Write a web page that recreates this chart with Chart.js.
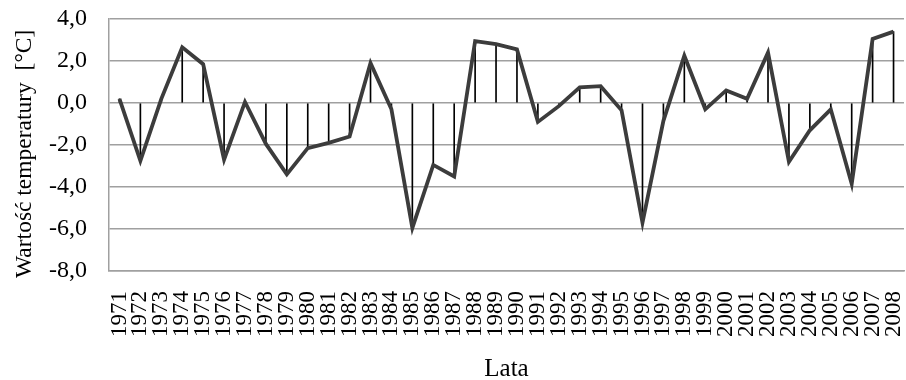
<!DOCTYPE html>
<html lang="pl">
<head>
  <meta charset="UTF-8" />
  <title>Wartość temperatury 1971-2008</title>
  <script src="https://cdn.jsdelivr.net/npm/chart.js@4.4.0/dist/chart.umd.min.js"></script>
  <style>
    html, body { margin: 0; padding: 0; background: #ffffff; }
    #wrap { width: 906px; height: 380px; }
  </style>
</head>
<body>
  <div id="wrap"><canvas id="tempChart" width="906" height="380"></canvas></div>

  <script>
    // Data
    const years = ['1971', '1972', '1973', '1974', '1975', '1976', '1977', '1978', '1979', '1980',
      '1981', '1982', '1983', '1984', '1985', '1986', '1987', '1988', '1989', '1990',
      '1991', '1992', '1993', '1994', '1995', '1996', '1997', '1998', '1999', '2000',
      '2001', '2002', '2003', '2004', '2005', '2006', '2007', '2008'];
    const temps = [0.2, -2.75, 0.2, 2.65, 1.85, -2.7, 0.05, -1.95, -3.4, -2.15,
      -1.9, -1.6, 1.9, -0.3, -5.95, -2.95, -3.5, 2.95, 2.8, 2.55,
      -0.9, -0.15, 0.75, 0.8, -0.35, -5.7, -0.85, 2.25, -0.3, 0.6,
      0.2, 2.4, -2.8, -1.3, -0.3, -3.85, 3.05, 3.4];
    const yTickValues = [-8, -6, -4, -2, 0, 2, 4];
    const yTickLabels = ['-8,0', '-6,0', '-4,0', '-2,0', '0,0', '2,0', '4,0'];

    const serif = 'Liberation Serif, Times New Roman, serif';

    new Chart(document.getElementById('tempChart'), {
      data: {
        labels: years,
        datasets: [
          {
            // the curve itself
            type: 'line',
            data: temps,
            borderColor: '#3c3c3c',
            borderWidth: 3.8,
            pointRadius: 0,
            tension: 0,
            order: 0
          },
          {
            // thin drop lines from zero to every point
            type: 'bar',
            data: temps,
            backgroundColor: '#000000',
            barThickness: 1,
            order: 1
          }
        ]
      },
      options: {
        responsive: false,
        animation: false,
        layout: { padding: { top: 19, right: 2, left: 0, bottom: 0 } },
        plugins: {
          legend: { display: false },
          tooltip: { enabled: false }
        },
        scales: {
          x: {
            offset: true,
            grid: { display: false, drawTicks: false },
            border: { display: true, color: '#a0a0a0', width: 1.5 },
            ticks: {
              color: '#000',
              font: { family: serif, size: 23 },
              minRotation: 90,
              maxRotation: 90,
              autoSkip: false,
              padding: 20
            },
            title: {
              display: true,
              text: 'Lata',
              color: '#000',
              font: { family: serif, size: 25, lineHeight: 0.85 },
              padding: { top: 0, bottom: 0 }
            },
            afterFit: scale => {
              scale.height = 109;
              scale.paddingLeft = 0;
              scale.paddingRight = 0;
            }
          },
          y: {
            min: -8,
            max: 4,
            grid: { color: '#a0a0a0', lineWidth: 1.5, drawTicks: false },
            border: { display: true, color: '#a0a0a0', width: 1.5 },
            afterBuildTicks: scale => {
              scale.ticks = yTickValues.map(v => ({ value: v }));
            },
            ticks: {
              color: '#000',
              font: { family: serif, size: 24 },
              padding: 22,
              callback: value => yTickLabels[yTickValues.indexOf(value)]
            },
            title: {
              display: true,
              // trailing spaces nudge the rotated title a little lower, as in the original
              text: 'Wartość temperatury  [°C]   ',
              color: '#000',
              font: { family: serif, size: 23.5 },
              padding: { top: 11, bottom: 0 }
            },
            afterFit: scale => {
              scale.width = 109;
              scale.paddingTop = 0;
              scale.paddingBottom = 0;
            }
          }
        }
      }
    });
  </script>
</body>
</html>
